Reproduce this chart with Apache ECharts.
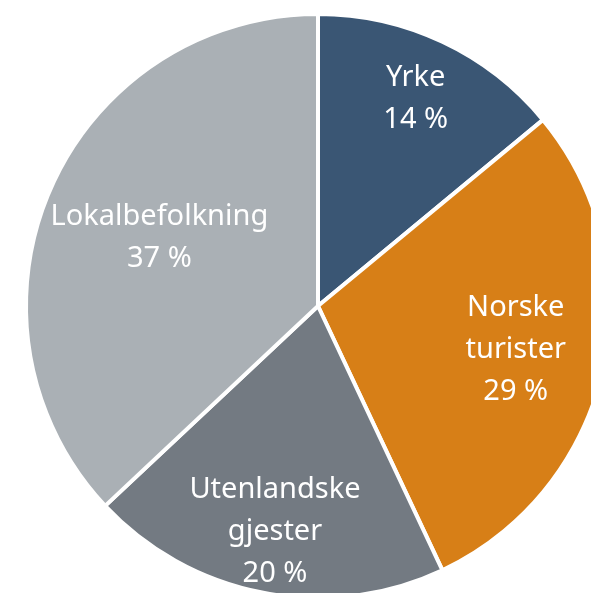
<!DOCTYPE html>
<html>
<head>
<meta charset="utf-8">
<script src="https://cdn.jsdelivr.net/npm/echarts@6/dist/echarts.min.js"></script>
<style>
  html, body { margin: 0; padding: 0; background: #fff; }
  #chart { width: 591px; height: 593px; }
</style>
</head>
<body>
<div id="chart"></div>
<script>
// shares, clockwise from 12 o'clock
const categories = ['Yrke', 'Norske\nturister', 'Utenlandske\ngjester', 'Lokalbefolkning'];
const shares = [14, 29, 20, 37];
const colors = ['#3a5674', '#d77f17', '#737a82', '#aab0b5'];
// where each label sits, as a fraction of the radius
const labelRadius = [0.77, 0.68, 0.77, 0.58];

const center = [318, 306];
const radius = 292;

const chart = echarts.init(document.getElementById('chart'));

chart.setOption({
  animation: false,
  series: [{
    type: 'pie',
    center: center,
    radius: radius,
    startAngle: 90,
    clockwise: true,
    data: categories.map((name, i) => ({
      name: name,
      value: shares[i],
      itemStyle: { color: colors[i] }
    })),
    itemStyle: {
      borderColor: '#fff',
      borderWidth: 4
    },
    label: {
      position: 'inside',
      color: '#fff',
      fontFamily: 'Noto Sans',
      fontSize: 29,
      lineHeight: 42,
      formatter: p => p.name + '\n' + p.value + ' %'
    },
    labelLine: { show: false },
    // push the inside labels out radially (default sits at half the radius)
    labelLayout: function (params) {
      const r = params.labelRect;
      const lx = r.x + r.width / 2 - center[0];
      const ly = r.y + r.height / 2 - center[1];
      const k = labelRadius[params.dataIndex] / 0.5 - 1;
      return { dx: lx * k, dy: ly * k };
    }
  }]
});
</script>
</body>
</html>
